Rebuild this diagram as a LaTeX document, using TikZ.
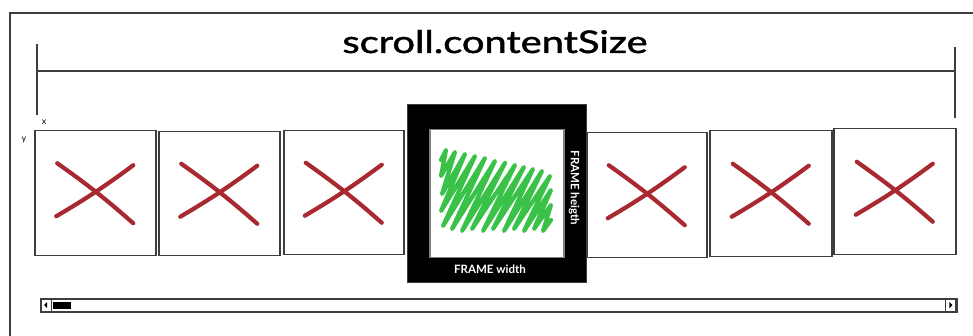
\documentclass[tikz,border=0pt]{standalone}
\usepackage{fontspec}
\setmainfont{Lato}
\newfontfamily\titlefont[FakeBold=1.3]{Lato}
\usetikzlibrary{calc}
\definecolor{inkgray}{RGB}{62,62,62}
\definecolor{xred}{RGB}{168,42,48}
\definecolor{scribble}{RGB}{58,194,72}
\tikzset{
  sketch/.style={draw=inkgray, line width=1.5pt},
  cell/.style={sketch, rectangle, inner sep=0pt, anchor=north west, fill=white},
  xmark/.style={draw=xred, line width=4.2pt, line cap=round},
  whitelabel/.style={text=white, font=\bfseries\fontsize{11.5}{11.5}\selectfont, inner sep=0pt},
}
\begin{document}
\begin{tikzpicture}[x=1pt, y=-1pt]
  \useasboundingbox[fill=white] (0,0) rectangle (973,336);

  % window frame (continues past the right and bottom edges)
  \draw[sketch, line width=2pt] (973,13) -- (10,13) -- (10,336);

  % content size dimension
  \coordinate (dimL) at (37,71);
  \coordinate (dimR) at (955,71);
  \draw[sketch] (dimL) -- (dimR);
  \draw[sketch] ([yshift=27pt]dimL) -- ([yshift=-44pt]dimL);
  \draw[sketch] ([yshift=24pt]dimR) -- ([yshift=-47pt]dimR);
  \node[anchor=base, text=black, inner sep=0pt] (title) at (495,53)
    {\resizebox{305pt}{23pt}{\titlefont scroll.contentSize}};

  % origin labels
  \node[font=\fontsize{9}{9}\selectfont, inner sep=0pt] (xlab) at (44,122) {x};
  \node[font=\fontsize{9}{9}\selectfont, inner sep=0pt] (ylab) at (24,140) {y};

  % page cells
  \node[cell, minimum width=121pt, minimum height=125pt] (b1) at (34,130) {};
  \node[cell, minimum width=121pt, minimum height=124pt] (b2) at (158,131) {};
  \node[cell, minimum width=120pt, minimum height=124pt] (b3) at (283,130) {};
  \node[cell, minimum width=120pt, minimum height=125pt] (b5) at (586,132) {};
  \node[cell, minimum width=122pt, minimum height=126pt] (b6) at (709,130) {};
  \node[cell, minimum width=122pt, minimum height=126pt] (b7) at (833,128) {};

  % crossed-out placeholders
  \foreach \b in {b1,b2,b3,b5,b6,b7} {
    \draw[xmark] ($(\b.center)+(-38,-30)$) to[bend left=3] ($(\b.center)+(38,30)$);
    \draw[xmark] ($(\b.center)+(-39,23)$) to[bend right=3] ($(\b.center)+(38,-28)$);
  }

  % visible frame
  \node[rectangle, fill=black, draw=inkgray, line width=1.2pt, anchor=north west,
        minimum width=179pt, minimum height=178pt, inner sep=0pt] (frame) at (407,104) {};
  \node[cell, minimum width=134pt, minimum height=128pt, draw=gray] (page) at (429,129) {};
  \node[whitelabel] (fw) at (490,269) {FRAME width};
  \node[whitelabel, rotate=-90] (fh) at (574,188) {FRAME heigth};

  % green scribble fill of the current page
  \draw[scribble, line width=4.2pt, line cap=round, line join=round]
    (441,160) -- (446,150) -- (441,176) -- (455,152) -- (442,194) -- (465,154)
    -- (441,211) -- (475,156) -- (443,226) -- (485,158) -- (452,229) -- (495,161)
    -- (462,231) -- (505,163) -- (472,229) -- (515,165) -- (483,231) -- (524,167)
    -- (493,229) -- (533,169) -- (504,231) -- (542,171) -- (514,229) -- (550,176)
    -- (524,231) -- (551,190) -- (534,229) -- (551,205) -- (543,231) -- (551,220);

  % horizontal scroll bar
  \node[sketch, rectangle, inner sep=0pt, anchor=north west, minimum width=916pt, minimum height=13pt] (bar) at (40,298) {};
  \node[sketch, rectangle, inner sep=0pt, anchor=north west, minimum width=11pt, minimum height=13pt, line width=1.2pt] (larrow) at (40,298) {};
  \node[sketch, rectangle, inner sep=0pt, anchor=north east, minimum width=10pt, minimum height=13pt, line width=1.2pt] (rarrow) at (956,298) {};
  \fill[black] ($(larrow.center)+(-2,0)$) -- ++(3,-3) -- ++(0,6) -- cycle;
  \fill[black] ($(rarrow.center)+(2,0)$) -- ++(-3,-3) -- ++(0,6) -- cycle;
  \node[rectangle, fill=black, inner sep=0pt, anchor=north west, minimum width=18pt, minimum height=7pt] (thumb) at (53,302) {};
\end{tikzpicture}
\end{document}
